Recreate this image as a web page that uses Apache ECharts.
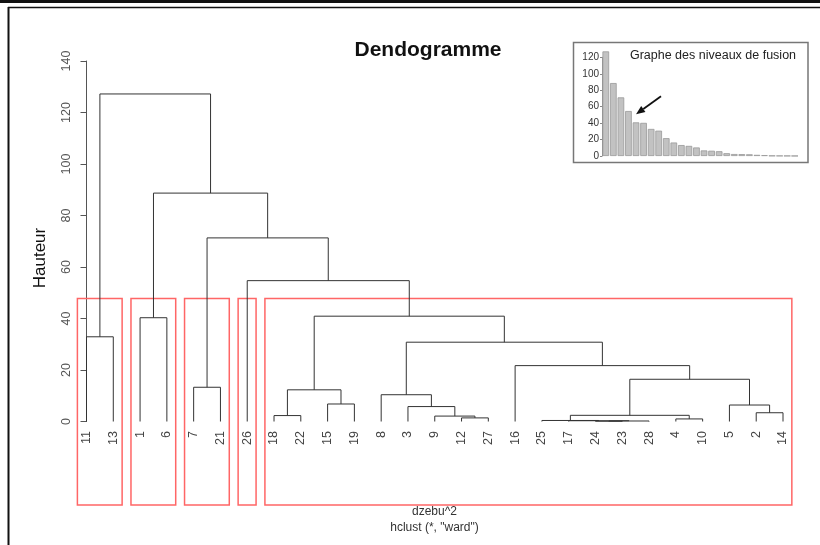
<!DOCTYPE html>
<html>
<head>
<meta charset="utf-8">
<script src="https://cdn.jsdelivr.net/npm/echarts@6/dist/echarts.min.js"></script>
<style>
  html, body { margin: 0; padding: 0; background: #fff; }
  #c { width: 820px; height: 545px; }
</style>
</head>
<body>
<div id="c"></div>
<script>
// Ward hierarchical clustering of dzebu^2, stored like R's hclust merge table:
// negative entries are observations, positive entries refer to an earlier merge step.
const mergeLeft   = [-24, 1, -17, -25, -4, -12, -9, -18, 4, -2, -3, -5, -15, -8, 8, -7, 9, -16, 14, -11, -1, 15, -26, 16, 21, 20];
const mergeRight  = [-23, -28, 2, 3, -10, -27, 6, -22, 5, -14, 7, 10, -19, 11, 13, -21, 12, 17, 18, -13, -6, 19, 22, 23, 24, 25];
const mergeHeight = [0.1, 0.2, 0.3, 0.4, 1.0, 1.4, 2.1, 2.3, 2.4, 3.4, 5.8, 6.4, 6.8, 10.4, 12.3, 13.3, 16.4, 21.7, 30.8, 32.9, 40.3, 40.9, 54.7, 71.3, 88.7, 127.2];
const clusterCount = 5;

const heightAxis = { min: 0, max: 140, step: 20 };
const fusionAxis = { min: 0, max: 120, step: 20 };

const FONT = '"Liberation Sans", Arial, Helvetica, sans-serif';

// ---- walk the tree: leaf order, node positions, link segments ----
const leafOrder = [];
const links = [];        // [xLeft, hLeft, xRight, hRight, h]
const nodeSpan = [];     // per merge: [firstLeafIndex, lastLeafIndex]
function place(ref) {
  if (ref < 0) {
    const i = leafOrder.length;
    leafOrder.push(-ref);
    return { x: i, h: 0, lo: i, hi: i };
  }
  const k = ref - 1;
  const a = place(mergeLeft[k]);
  const b = place(mergeRight[k]);
  const h = mergeHeight[k];
  links.push([a.x, a.h, b.x, b.h, h]);
  nodeSpan[k] = [a.lo, b.hi];
  return { x: (a.x + b.x) / 2, h: h, lo: a.lo, hi: b.hi };
}
const nMerge = mergeHeight.length;
place(nMerge);
const leafData = leafOrder.map((id, i) => [i, String(id)]);

// ---- cut into clusterCount groups (rect.hclust) ----
const topMerges = new Set();
for (let k = nMerge - clusterCount + 1; k < nMerge; k++) topMerges.add(k + 1);
const groups = [];
topMerges.forEach(m => {
  [mergeLeft[m - 1], mergeRight[m - 1]].forEach(c => {
    if (c > 0 && topMerges.has(c)) return;
    if (c < 0) { const i = leafOrder.indexOf(-c); groups.push([i, i]); }
    else groups.push(nodeSpan[c - 1]);
  });
});
const cutHeight = (mergeHeight[nMerge - clusterCount] + mergeHeight[nMerge - clusterCount + 1]) / 2;
const rectData = groups.map(g => [g[0] - 0.34, g[1] + 0.33, cutHeight]);

// ---- fusion levels for the inset, highest first ----
const fusionLevels = mergeHeight.slice().reverse();
const fusionIndex = fusionLevels.map((_, i) => i + 1);

const rectBottomValue = -32.4;   // lower edge of the plotting region

const chart = echarts.init(document.getElementById('c'), null, { renderer: 'canvas' });

chart.setOption({
  animation: false,
  backgroundColor: '#fff',
  grid: [
    { left: 86.5, top: 61, width: 696.5, height: 360.5 },
    { left: 602, top: 57.3, width: 196.5, height: 98.7 }
  ],
  xAxis: [
    { gridIndex: 0, type: 'value', min: 0, max: leafOrder.length - 1, show: false },
    { gridIndex: 1, type: 'category', data: fusionIndex, show: false, boundaryGap: true }
  ],
  yAxis: [
    {
      gridIndex: 0, type: 'value', min: heightAxis.min, max: heightAxis.max, interval: heightAxis.step,
      axisLine: { show: true, lineStyle: { color: '#555', width: 1 } },
      axisTick: { show: true, length: 6, lineStyle: { color: '#555' } },
      axisLabel: { rotate: 90, margin: 13, fontSize: 12.5, color: '#555', fontFamily: FONT },
      splitLine: { show: false }
    },
    {
      gridIndex: 1, type: 'value', min: fusionAxis.min, max: fusionAxis.max, interval: fusionAxis.step,
      axisLine: { show: true, lineStyle: { color: '#888', width: 1 } },
      axisTick: { show: true, length: 2, lineStyle: { color: '#888' } },
      axisLabel: { margin: 3, fontSize: 10, color: '#333', fontFamily: FONT },
      splitLine: { show: false }
    }
  ],
  series: [
    {
      // cluster rectangles
      type: 'custom', xAxisIndex: 0, yAxisIndex: 0, clip: false, z: 2,
      data: rectData,
      encode: { x: [0, 1], y: 2 },
      renderItem: function (params, api) {
        const p0 = api.coord([api.value(0), api.value(2)]);
        const p1 = api.coord([api.value(1), rectBottomValue]);
        return {
          type: 'rect',
          shape: { x: p0[0], y: p0[1], width: p1[0] - p0[0], height: p1[1] - p0[1] },
          style: { fill: 'none', stroke: '#ff6666', lineWidth: 1.5 }
        };
      }
    },
    {
      // dendrogram links
      type: 'custom', xAxisIndex: 0, yAxisIndex: 0, clip: false, z: 3,
      data: links,
      encode: { x: [0, 2], y: [1, 3, 4] },
      renderItem: function (params, api) {
        const xl = api.value(0), hl = api.value(1), xr = api.value(2), hr = api.value(3), h = api.value(4);
        return {
          type: 'polyline',
          shape: { points: [api.coord([xl, hl]), api.coord([xl, h]), api.coord([xr, h]), api.coord([xr, hr])] },
          style: { fill: 'none', stroke: '#333', lineWidth: 1 }
        };
      }
    },
    {
      // leaf labels
      type: 'custom', xAxisIndex: 0, yAxisIndex: 0, clip: false, z: 3,
      data: leafData,
      encode: { x: 0 },
      renderItem: function (params, api) {
        const p = api.coord([api.value(0), 0]);
        return {
          type: 'text',
          x: p[0], y: p[1] + 9.5,
          rotation: Math.PI / 2,
          style: {
            text: leafData[params.dataIndex][1],
            align: 'right', verticalAlign: 'middle',
            font: '12.5px ' + FONT, fill: '#444'
          }
        };
      }
    },
    {
      // fusion level bars
      type: 'bar', xAxisIndex: 1, yAxisIndex: 1, clip: false,
      data: fusionLevels,
      barCategoryGap: '12%',
      itemStyle: { color: '#c2c2c2', borderColor: '#999', borderWidth: 0.8 },
      silent: true
    }
  ]
});

// annotation arrow pointing at the fifth fusion level
const tip = chart.convertToPixel({ gridIndex: 1 }, [4, 50.7]);
const tail = [tip[0] + 25, tip[1] - 18];
const dx = tip[0] - tail[0], dy = tip[1] - tail[1];
const len = Math.sqrt(dx * dx + dy * dy);
const ux = dx / len, uy = dy / len;
const headLen = 9, headW = 3.6;
const base = [tip[0] - ux * headLen, tip[1] - uy * headLen];

chart.setOption({
  graphic: [
    // page frame
    { type: 'line', shape: { x1: 0, y1: 1.5, x2: 820, y2: 1.5 }, style: { stroke: '#111', lineWidth: 3 } },
    { type: 'line', shape: { x1: 8, y1: 7.5, x2: 820, y2: 7.5 }, style: { stroke: '#111', lineWidth: 1.5 } },
    { type: 'line', shape: { x1: 8.5, y1: 7, x2: 8.5, y2: 545 }, style: { stroke: '#111', lineWidth: 2 } },
    // titles
    { type: 'text', x: 428, y: 50, style: { text: 'Dendogramme', align: 'center', verticalAlign: 'middle', font: 'bold 21px ' + FONT, fill: '#111' } },
    { type: 'text', x: 40, y: 258, rotation: Math.PI / 2, style: { text: 'Hauteur', align: 'center', verticalAlign: 'middle', font: '17px ' + FONT, fill: '#111' } },
    { type: 'text', x: 434.5, y: 512, style: { text: 'dzebu^2', align: 'center', verticalAlign: 'middle', font: '12px ' + FONT, fill: '#333' } },
    { type: 'text', x: 434.5, y: 527.5, style: { text: 'hclust (*, "ward")', align: 'center', verticalAlign: 'middle', font: '12px ' + FONT, fill: '#333' } },
    // inset frame and caption
    { type: 'rect', shape: { x: 573.5, y: 42.5, width: 234.5, height: 120 }, style: { fill: 'none', stroke: '#777', lineWidth: 1.5 }, z: 10 },
    { type: 'text', x: 713, y: 56, style: { text: 'Graphe des niveaux de fusion', align: 'center', verticalAlign: 'middle', font: '12.5px ' + FONT, fill: '#222' }, z: 10 },
    // arrow
    { type: 'line', shape: { x1: tail[0], y1: tail[1], x2: base[0], y2: base[1] }, style: { stroke: '#111', lineWidth: 1.8 }, z: 10 },
    { type: 'polygon', shape: { points: [tip, [base[0] - uy * headW, base[1] + ux * headW], [base[0] + uy * headW, base[1] - ux * headW]] }, style: { fill: '#111' }, z: 10 }
  ]
});
</script>
</body>
</html>
